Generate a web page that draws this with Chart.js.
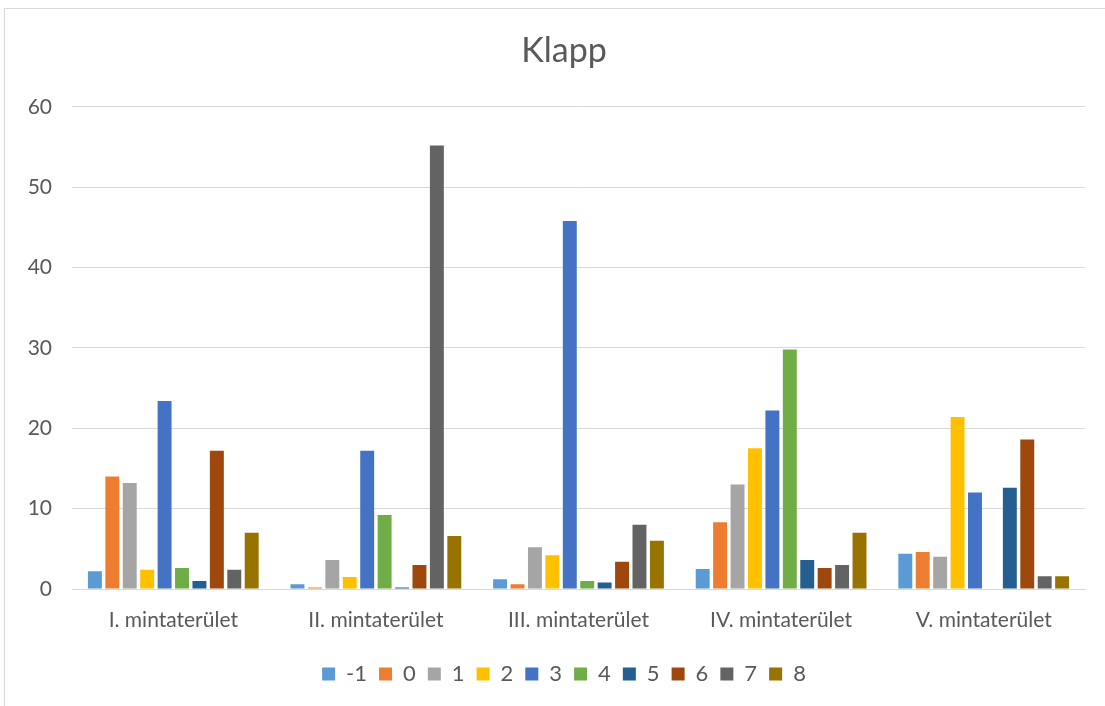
<!DOCTYPE html>
<html>
<head>
<meta charset="utf-8">
<script src="https://cdn.jsdelivr.net/npm/chart.js@4.4.1/dist/chart.umd.min.js"></script>
<style>
  html, body { margin: 0; padding: 0; background: #fff; overflow: hidden; width: 1105px; height: 706px; }
  #frame { position: absolute; left: 4px; top: 8px; width: 1130px; height: 700px; border: 1px solid #d9d9d9; box-sizing: border-box; }
  #wrap { position: absolute; left: 0; top: 0; width: 1125px; height: 706px; }
</style>
</head>
<body>
<div id="frame"></div>
<div id="wrap"><canvas id="klappChart" width="1125" height="706"></canvas></div>
<script>
// categories (sample areas) and one value list per class -1..8
const areas = ['I. mintaterület', 'II. mintaterület', 'III. mintaterület', 'IV. mintaterület', 'V. mintaterület'];
const classLabels = ['-1', '0', '1', '2', '3', '4', '5', '6', '7', '8'];

const classM1 = [2.2, 0.6, 1.2, 2.5, 4.4];
const class0 = [14.0, 0.2, 0.6, 8.3, 4.6];
const class1 = [13.2, 3.6, 5.2, 13.0, 4.0];
const class2 = [2.4, 1.5, 4.2, 17.5, 21.4];
const class3 = [23.4, 17.2, 45.8, 22.2, 12.0];
const class4 = [2.6, 9.2, 1.0, 29.8, 0];
const class5 = [1.0, 0.2, 0.8, 3.6, 12.6];
const class6 = [17.2, 3.0, 3.4, 2.6, 18.6];
const class7 = [2.4, 55.2, 8.0, 3.0, 1.6];
const class8 = [7.0, 6.6, 6.0, 7.0, 1.6];

const yTicks = [0, 10, 20, 30, 40, 50, 60];

const seriesValues = [classM1, class0, class1, class2, class3, class4, class5, class6, class7, class8];
const colors = ['#5B9BD5', '#ED7D31', '#A5A5A5', '#FFC000', '#4472C4', '#70AD47', '#255E91', '#9E480E', '#636363', '#997300'];

const txt = '#595959';
const font = 'Lato, "Liberation Sans", sans-serif';

const ctx = document.getElementById('klappChart');
new Chart(ctx, {
  type: 'bar',
  data: {
    labels: areas,
    datasets: classLabels.map((lab, i) => ({
      label: lab,
      data: seriesValues[i],
      backgroundColor: colors[i],
      categoryPercentage: 0.86,
      barPercentage: 0.8,
    }))
  },
  options: {
    responsive: false,
    animation: false,
    layout: { padding: { left: 4, right: 1, top: 0, bottom: 11 } },
    plugins: {
      title: {
        display: true,
        text: 'Klapp',
        color: txt,
        font: { family: font, size: 34, weight: 'normal' },
        padding: { top: 31, bottom: 35 }
      },
      legend: {
        position: 'bottom',
        labels: {
          color: txt,
          font: { family: font, size: 22 },
          boxWidth: 13,
          boxHeight: 13,
          padding: 12
        }
      },
      tooltip: { enabled: false }
    },
    scales: {
      x: {
        grid: { display: false },
        border: { color: '#d9d9d9' },
        ticks: { color: txt, font: { family: font, size: 21 }, padding: 11 },
        afterFit: (s) => { s.height = 62; }
      },
      y: {
        min: 0,
        max: 60,
        afterBuildTicks: (s) => { s.ticks = yTicks.map((v) => ({ value: v })); },
        grid: { color: '#d9d9d9', drawTicks: false },
        border: { display: false },
        ticks: { color: txt, font: { family: font, size: 21 }, padding: 20 },
        afterFit: (s) => { s.width = 68; }
      },
      // empty right-hand spacer so the plot ends where the reference does
      yRight: {
        position: 'right',
        grid: { display: false },
        border: { display: false },
        ticks: { display: false },
        afterFit: (s) => { s.width = 39; }
      }
    }
  }
});
</script>
</body>
</html>
